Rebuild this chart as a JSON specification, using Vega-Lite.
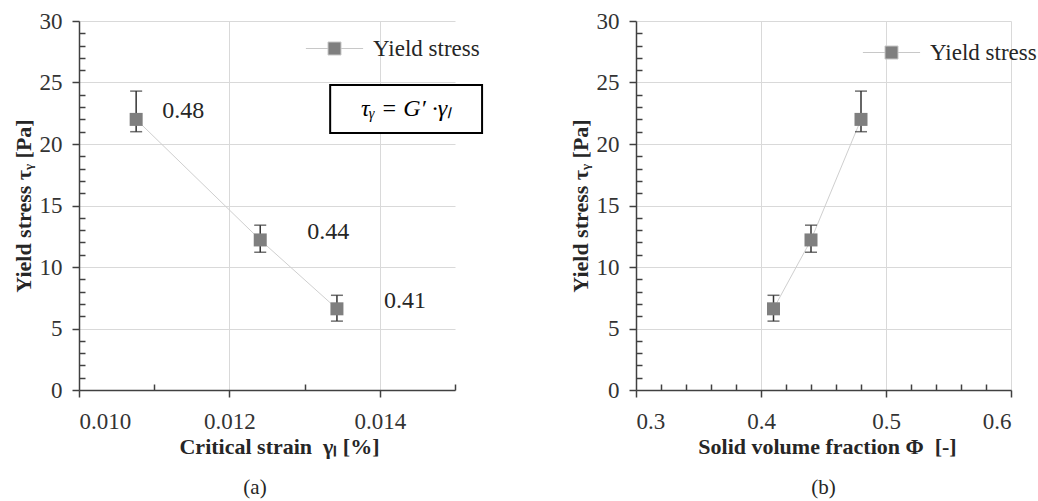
{
  "$schema": "https://vega.github.io/schema/vega-lite/v6.json",
  "datasets": {
    "ys": [
      {"strain": 0.01076, "phi": 0.48, "stress": 22.0, "lo": 21.0, "hi": 24.3},
      {"strain": 0.01241, "phi": 0.44, "stress": 12.2, "lo": 11.2, "hi": 13.4},
      {"strain": 0.01343, "phi": 0.41, "stress": 6.6, "lo": 5.6, "hi": 7.7}
    ]
  },
  "data": {"name": "ys"},
  "padding": {"left": 12, "top": 10, "right": 5, "bottom": 5},
  "spacing": 181,
  "bounds": "flush",
  "resolve": {"scale": {"color": "independent"}, "legend": {"color": "independent"}},
  "hconcat": [
    {
      "width": 376,
      "height": 369,
      "title": {"text": "(a)", "orient": "bottom", "anchor": "middle", "dx": -12, "offset": 20, "fontSize": 21, "fontWeight": "normal", "font": "Liberation Serif", "color": "#262626"},
      "layer": [
        {
          "encoding": {
            "x": {"field": "strain", "type": "quantitative",
              "scale": {"domain": [0.010, 0.015], "nice": false, "zero": false},
              "axis": {"values": [0.010, 0.011, 0.012, 0.013, 0.014, 0.015], "format": ".3f",
                "labelExpr": "round(datum.value*1000) % 2 == 0 ? datum.label : ''",
                "tickSize": {"condition": {"test": "round(datum.value*1000) % 2 == 0", "value": 7}, "value": -6},
                "gridOpacity": {"condition": {"test": "round(datum.value*1000) % 2 == 0", "value": 1}, "value": 0},
                "labelPadding": 13, "title": "Critical strain \u00a0γₗ [%]", "titlePadding": 3, "titleX": 200}},
            "y": {"field": "stress", "type": "quantitative",
              "scale": {"domain": [0, 30], "nice": false},
              "axis": {"values": [0,1,2,3,4,5,6,7,8,9,10,11,12,13,14,15,16,17,18,19,20,21,22,23,24,25,26,27,28,29,30],
                "labelExpr": "datum.value % 5 == 0 ? datum.label : ''",
                "tickSize": {"condition": {"test": "datum.value % 5 == 0", "value": 7}, "value": -6},
                "gridOpacity": {"condition": {"test": "datum.value % 5 == 0", "value": 1}, "value": 0},
                "labelPadding": 10, "title": "Yield stress τᵧ [Pa]", "titlePadding": 4}}
          },
          "layer": [
            {
              "mark": {"type": "line", "color": "#cfcfcf", "strokeWidth": 1}
            },
            {
              "mark": {"type": "errorbar", "ticks": {"size": 12}, "thickness": 1.5, "color": "#333333"},
              "encoding": {
                "y": {"field": "lo", "type": "quantitative"},
                "y2": {"field": "hi"}
              }
            },
            {
              "mark": {"type": "square", "size": 169, "filled": true, "opacity": 1},
              "encoding": {
                "color": {"datum": "Yield stress", "scale": {"range": ["#7f7f7f"]},
                  "legend": {"orient": "none", "legendX": 242, "legendY": 14, "title": null,
                    "symbolType": "M-2.2,0H-0.5M0.5,0H2.2M-0.5,-0.5H0.5V0.5H-0.5Z",
                    "symbolSize": 676, "symbolFillColor": "#7f7f7f", "symbolStrokeColor": "#c8c8c8", "symbolStrokeWidth": 1,
                    "labelFont": "Liberation Serif", "labelFontSize": 23, "labelColor": "#262626", "labelOffset": 25, "padding": 0,
                    "encode": {"symbols": {"update": {"stroke": {"value": "#c8c8c8"}, "strokeWidth": {"value": 1}}}}}}
              }
            },
            {
              "transform": [{"filter": "datum.phi > 0.47"}],
              "mark": {"type": "text", "align": "left", "baseline": "middle", "dx": 26, "dy": -8, "fontSize": 24, "font": "Liberation Serif", "color": "#262626"},
              "encoding": {
                "text": {"field": "phi", "type": "quantitative", "format": ".2f"}
              }
            },
            {
              "transform": [{"filter": "datum.phi < 0.47"}],
              "mark": {"type": "text", "align": "left", "baseline": "middle", "dx": 47, "dy": -8, "fontSize": 24, "font": "Liberation Serif", "color": "#262626"},
              "encoding": {
                "text": {"field": "phi", "type": "quantitative", "format": ".2f"}
              }
            }
          ]
        },
        {
          "data": {"values": [{}]},
          "mark": {"type": "rect", "fill": "white", "stroke": "#000000", "strokeWidth": 2},
          "encoding": {
            "x": {"datum": 0.01334, "type": "quantitative",
              "scale": {"domain": [0.010, 0.015], "nice": false, "zero": false},
              "axis": {"values": [0.010, 0.011, 0.012, 0.013, 0.014, 0.015], "format": ".3f",
                "labelExpr": "round(datum.value*1000) % 2 == 0 ? datum.label : ''",
                "tickSize": {"condition": {"test": "round(datum.value*1000) % 2 == 0", "value": 7}, "value": -6},
                "gridOpacity": {"condition": {"test": "round(datum.value*1000) % 2 == 0", "value": 1}, "value": 0},
                "labelPadding": 13, "title": "Critical strain \u00a0γₗ [%]", "titlePadding": 3, "titleX": 200}},
            "x2": {"datum": 0.01536},
            "y": {"datum": 24.8, "type": "quantitative",
              "scale": {"domain": [0, 30], "nice": false},
              "axis": {"values": [0,1,2,3,4,5,6,7,8,9,10,11,12,13,14,15,16,17,18,19,20,21,22,23,24,25,26,27,28,29,30],
                "labelExpr": "datum.value % 5 == 0 ? datum.label : ''",
                "tickSize": {"condition": {"test": "datum.value % 5 == 0", "value": 7}, "value": -6},
                "gridOpacity": {"condition": {"test": "datum.value % 5 == 0", "value": 1}, "value": 0},
                "labelPadding": 10, "title": "Yield stress τᵧ [Pa]", "titlePadding": 4}},
            "y2": {"datum": 20.9}
          }
        },
        {
          "data": {"values": [{}]},
          "mark": {"type": "text", "text": "τᵧ = G′ ·γₗ", "fontStyle": "italic", "fontSize": 24, "font": "Liberation Serif", "color": "#000000", "align": "center", "baseline": "middle"},
          "encoding": {
            "x": {"datum": 0.01435, "type": "quantitative",
              "scale": {"domain": [0.010, 0.015], "nice": false, "zero": false},
              "axis": {"values": [0.010, 0.011, 0.012, 0.013, 0.014, 0.015], "format": ".3f",
                "labelExpr": "round(datum.value*1000) % 2 == 0 ? datum.label : ''",
                "tickSize": {"condition": {"test": "round(datum.value*1000) % 2 == 0", "value": 7}, "value": -6},
                "gridOpacity": {"condition": {"test": "round(datum.value*1000) % 2 == 0", "value": 1}, "value": 0},
                "labelPadding": 13, "title": "Critical strain \u00a0γₗ [%]", "titlePadding": 3, "titleX": 200}},
            "y": {"datum": 22.85, "type": "quantitative",
              "scale": {"domain": [0, 30], "nice": false},
              "axis": {"values": [0,1,2,3,4,5,6,7,8,9,10,11,12,13,14,15,16,17,18,19,20,21,22,23,24,25,26,27,28,29,30],
                "labelExpr": "datum.value % 5 == 0 ? datum.label : ''",
                "tickSize": {"condition": {"test": "datum.value % 5 == 0", "value": 7}, "value": -6},
                "gridOpacity": {"condition": {"test": "datum.value % 5 == 0", "value": 1}, "value": 0},
                "labelPadding": 10, "title": "Yield stress τᵧ [Pa]", "titlePadding": 4}}
          }
        }
      ]
    },
    {
      "width": 375,
      "height": 369,
      "title": {"text": "(b)", "orient": "bottom", "anchor": "middle", "dx": 0, "offset": 20, "fontSize": 21, "fontWeight": "normal", "font": "Liberation Serif", "color": "#262626"},
      "encoding": {
        "x": {"field": "phi", "type": "quantitative",
          "scale": {"domain": [0.3, 0.6], "nice": false, "zero": false},
          "axis": {"values": [0.30,0.32,0.34,0.36,0.38,0.40,0.42,0.44,0.46,0.48,0.50,0.52,0.54,0.56,0.58,0.60], "format": ".1f",
            "labelExpr": "round(datum.value*100) % 10 == 0 ? datum.label : ''",
            "tickSize": {"condition": {"test": "round(datum.value*100) % 10 == 0", "value": 7}, "value": -6},
            "gridOpacity": {"condition": {"test": "round(datum.value*100) % 10 == 0", "value": 1}, "value": 0},
            "labelPadding": 13, "title": "Solid volume fraction Φ \u00a0[-]", "titlePadding": 3, "titleX": 191}},
        "y": {"field": "stress", "type": "quantitative",
          "scale": {"domain": [0, 30], "nice": false},
          "axis": {"values": [0,1,2,3,4,5,6,7,8,9,10,11,12,13,14,15,16,17,18,19,20,21,22,23,24,25,26,27,28,29,30],
            "labelExpr": "datum.value % 5 == 0 ? datum.label : ''",
            "tickSize": {"condition": {"test": "datum.value % 5 == 0", "value": 7}, "value": -6},
            "gridOpacity": {"condition": {"test": "datum.value % 5 == 0", "value": 1}, "value": 0},
            "labelPadding": 10, "title": "Yield stress τᵧ [Pa]", "titlePadding": 4}}
      },
      "layer": [
        {
          "mark": {"type": "line", "color": "#cfcfcf", "strokeWidth": 1}
        },
        {
          "mark": {"type": "errorbar", "ticks": {"size": 12}, "thickness": 1.5, "color": "#333333"},
          "encoding": {
            "y": {"field": "lo", "type": "quantitative"},
            "y2": {"field": "hi"}
          }
        },
        {
          "mark": {"type": "square", "size": 169, "filled": true, "opacity": 1},
          "encoding": {
            "color": {"datum": "Yield stress", "scale": {"range": ["#7f7f7f"]},
              "legend": {"orient": "none", "legendX": 242, "legendY": 18, "title": null,
                "symbolType": "M-2.2,0H-0.5M0.5,0H2.2M-0.5,-0.5H0.5V0.5H-0.5Z",
                "symbolSize": 676, "symbolFillColor": "#7f7f7f", "symbolStrokeColor": "#c8c8c8", "symbolStrokeWidth": 1,
                "labelFont": "Liberation Serif", "labelFontSize": 23, "labelColor": "#262626", "labelOffset": 25, "padding": 0,
                "encode": {"symbols": {"update": {"stroke": {"value": "#c8c8c8"}, "strokeWidth": {"value": 1}}}}}}
          }
        }
      ]
    }
  ],
  "config": {
    "view": {"stroke": null},
    "font": "Liberation Serif",
    "axis": {
      "domainColor": "#404040", "domainWidth": 1.5,
      "tickColor": "#404040", "tickWidth": 1.5,
      "labelFont": "Liberation Serif", "labelFontSize": 23, "labelColor": "#333333",
      "titleFont": "Liberation Serif", "titleFontSize": 22, "titleFontWeight": "bold", "titleColor": "#262626",
      "gridColor": "#d9d9d9", "gridWidth": 1
    }
  }
}
